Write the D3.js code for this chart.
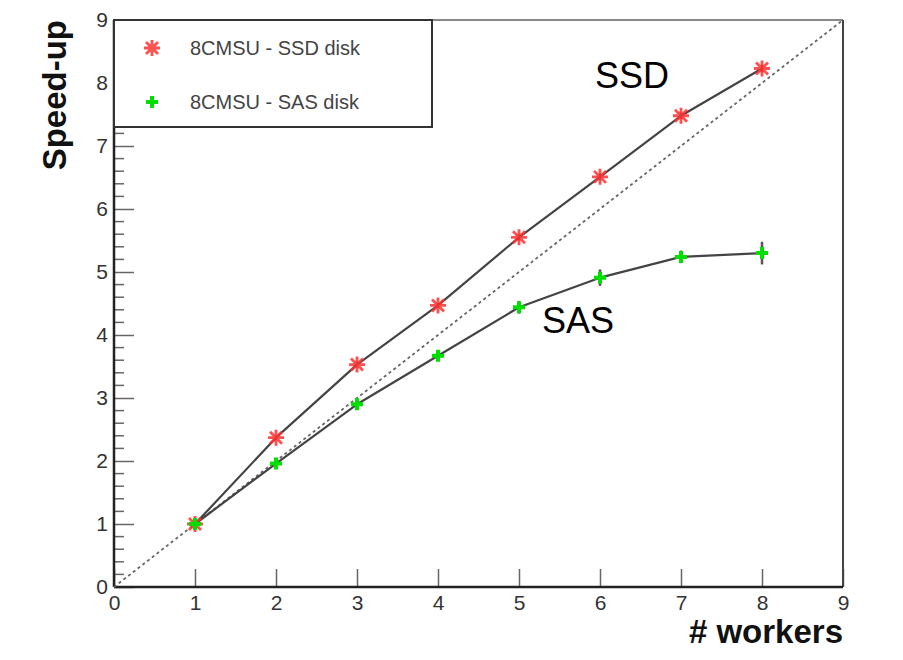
<!DOCTYPE html>
<html>
<head>
<meta charset="utf-8">
<script src="https://cdn.jsdelivr.net/npm/d3@7"></script>
<style>
  body { margin: 0; background: #fff; }
  text { font-family: "Liberation Sans", Arial, sans-serif; }
</style>
</head>
<body>
<div id="chart-area"></div>
<script>
// values
var workers = [1, 2, 3, 4, 5, 6, 7, 8];
var ssdSpeedup = [1.0, 2.37, 3.53, 4.47, 5.55, 6.51, 7.48, 8.23];
var ssdError = [0.03, 0.04, 0.04, 0.04, 0.05, 0.05, 0.05, 0.06];
var sasSpeedup = [1.0, 1.96, 2.90, 3.67, 4.44, 4.91, 5.24, 5.30];
var sasError = [0.02, 0.03, 0.04, 0.05, 0.1, 0.13, 0.1, 0.18];
var xTicks = [0, 1, 2, 3, 4, 5, 6, 7, 8, 9];
var yTicks = [0, 1, 2, 3, 4, 5, 6, 7, 8, 9];
var legendLabels = ["8CMSU - SSD disk", "8CMSU - SAS disk"];

var margin = { top: 20, right: 60, bottom: 73, left: 114 },
    width = 843 - margin.left,
    height = 587 - margin.top;

var svg = d3.select("#chart-area")
    .append("svg")
    .attr("width", 903)
    .attr("height", 660)
    .append("g")
    .attr("transform", "translate(" + margin.left + "," + margin.top + ")");

var xScale = d3.scaleLinear().domain([0, 9]).range([0, width]);
var yScale = d3.scaleLinear().domain([0, 9]).range([height, 0]);

// minor ticks on y axis
var yMinor = d3.range(0, 9.001, 0.2).filter(function(v) { return Math.abs(v - Math.round(v)) > 0.01; });
svg.append("g")
    .selectAll("line")
    .data(yMinor)
    .enter().append("line")
    .attr("x1", 0).attr("x2", 10)
    .attr("y1", function(d) { return yScale(d); })
    .attr("y2", function(d) { return yScale(d); })
    .attr("stroke", "#666").attr("stroke-width", 1.5);

// major ticks pointing into the frame
svg.append("g")
    .call(d3.axisLeft(yScale).tickValues(yTicks).tickSize(-20).tickPadding(6).tickSizeOuter(0))
    .call(function(g) {
        g.select(".domain").remove();
        g.selectAll(".tick line").attr("stroke", "#666").attr("stroke-width", 1.5);
        g.selectAll("text").attr("font-size", 21).attr("fill", "#333");
    });

svg.append("g")
    .attr("transform", "translate(0," + height + ")")
    .call(d3.axisBottom(xScale).tickValues(xTicks).tickSize(-18).tickPadding(8).tickSizeOuter(0))
    .call(function(g) {
        g.select(".domain").remove();
        g.selectAll(".tick line").attr("stroke", "#666").attr("stroke-width", 1.5);
        g.selectAll("text").attr("font-size", 21).attr("fill", "#333");
    });

// frame
svg.append("line").attr("x1", 0).attr("x2", width).attr("y1", 0).attr("y2", 0)
    .attr("stroke", "#888").attr("stroke-width", 2);
svg.append("line").attr("x1", width).attr("x2", width).attr("y1", 0).attr("y2", height)
    .attr("stroke", "#444").attr("stroke-width", 2);
svg.append("line").attr("x1", 0).attr("x2", 0).attr("y1", 0).attr("y2", height)
    .attr("stroke", "#222").attr("stroke-width", 2.5);
svg.append("line").attr("x1", 0).attr("x2", width).attr("y1", height).attr("y2", height)
    .attr("stroke", "#222").attr("stroke-width", 2.5);

// ideal speed-up diagonal
svg.append("line")
    .attr("x1", xScale(0)).attr("y1", yScale(0))
    .attr("x2", xScale(9)).attr("y2", yScale(9))
    .attr("stroke", "#666").attr("stroke-width", 1.8)
    .attr("stroke-dasharray", "3,3");

var line = d3.line()
    .x(function(d) { return xScale(d[0]); })
    .y(function(d) { return yScale(d[1]); });

var ssd = workers.map(function(w, i) { return [w, ssdSpeedup[i], ssdError[i]]; });
var sas = workers.map(function(w, i) { return [w, sasSpeedup[i], sasError[i]]; });

[ssd, sas].forEach(function(data) {
    svg.append("path")
        .datum(data)
        .attr("fill", "none")
        .attr("stroke", "#444")
        .attr("stroke-width", 2.2)
        .attr("stroke-linejoin", "round")
        .attr("d", line);

    svg.append("g")
        .selectAll("line")
        .data(data)
        .enter().append("line")
        .attr("x1", function(d) { return xScale(d[0]); })
        .attr("x2", function(d) { return xScale(d[0]); })
        .attr("y1", function(d) { return yScale(d[1] - d[2]); })
        .attr("y2", function(d) { return yScale(d[1] + d[2]); })
        .attr("stroke", "#555")
        .attr("stroke-width", 2.5);
});

var starPath = "M-8,0L8,0M0,-8L0,8M-6,-6L6,6M-6,6L6,-6";
var plusSym = d3.symbol().type(d3.symbolCross).size(80);

function drawStar(g) {
    g.append("path").attr("d", starPath)
        .attr("stroke", "#ff3030").attr("stroke-width", 2.8)
        .attr("fill", "none").attr("opacity", 0.85);
}

function drawPlus(g) {
    g.append("path").attr("d", plusSym)
        .attr("fill", "#00e000");
}

svg.append("g")
    .selectAll("g")
    .data(ssd)
    .enter().append("g")
    .attr("transform", function(d) { return "translate(" + xScale(d[0]) + "," + yScale(d[1]) + ")"; })
    .each(function() { drawStar(d3.select(this)); });

svg.append("g")
    .selectAll("g")
    .data(sas)
    .enter().append("g")
    .attr("transform", function(d) { return "translate(" + xScale(d[0]) + "," + yScale(d[1]) + ")"; })
    .each(function() { drawPlus(d3.select(this)); });

// legend
var legend = svg.append("g");
legend.append("rect")
    .attr("x", 0).attr("y", 0)
    .attr("width", 318).attr("height", 107)
    .attr("fill", "#fff")
    .attr("stroke", "#333").attr("stroke-width", 2);

legendLabels.forEach(function(label, i) {
    var item = legend.append("g")
        .attr("transform", "translate(38," + (28 + i * 54) + ")");
    if (i === 0) drawStar(item); else drawPlus(item);
    item.append("text")
        .attr("x", 38)
        .attr("dy", "0.35em")
        .attr("font-size", 20)
        .attr("fill", "#444")
        .text(label);
});

// annotations
svg.append("text")
    .attr("x", 595 - margin.left)
    .attr("y", 88 - margin.top)
    .attr("font-size", 36)
    .attr("fill", "#000")
    .text("SSD");

svg.append("text")
    .attr("x", 542 - margin.left)
    .attr("y", 333 - margin.top)
    .attr("font-size", 36)
    .attr("fill", "#000")
    .text("SAS");

// axis titles
svg.append("text")
    .attr("x", width)
    .attr("y", 643 - margin.top)
    .attr("text-anchor", "end")
    .attr("font-size", 33)
    .attr("font-weight", "bold")
    .attr("fill", "#111")
    .text("# workers");

svg.append("text")
    .attr("transform", "rotate(-90)")
    .attr("x", 0)
    .attr("y", 66 - margin.left)
    .attr("text-anchor", "end")
    .attr("font-size", 33)
    .attr("font-weight", "bold")
    .attr("fill", "#111")
    .text("Speed-up");
</script>
</body>
</html>
